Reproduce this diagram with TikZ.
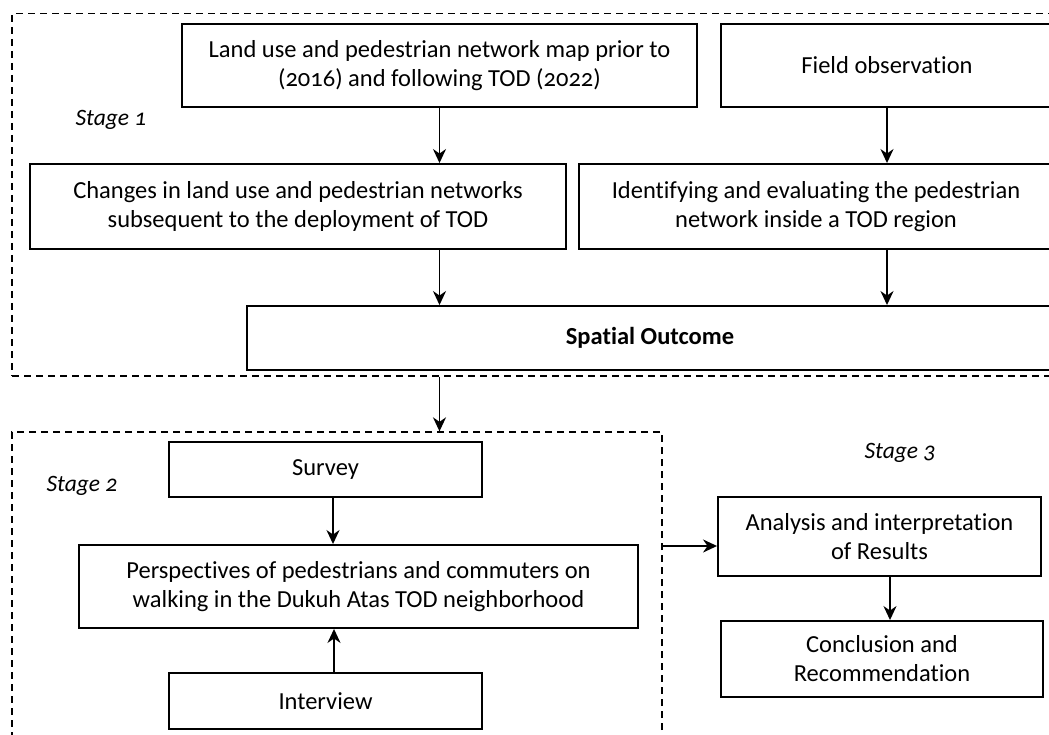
\documentclass[tikz,border=0pt]{standalone}
\usepackage{fontspec}
\setmainfont{Carlito}[Numbers=OldStyle,Ligatures=NoCommon]
\usetikzlibrary{arrows.meta}
\begin{document}
\begin{tikzpicture}[x=1pt,y=-1pt,
  box/.style={draw, line width=1.9pt, rectangle, inner sep=0pt, align=center, font=\fontsize{24.5}{29}\selectfont},
  arr/.style={line width=1.8pt, -{Stealth[length=14pt,width=13pt,inset=4.5pt]}},
  stagebox/.style={draw, dash pattern=on 7pt off 5pt, line width=1.3pt, rectangle, inner sep=0pt},
  stagelabel/.style={font=\fontsize{23.5}{28}\selectfont\itshape, inner sep=0pt}]
\useasboundingbox (0,0) rectangle (1049,735);
\clip (0,0) rectangle (1049,735);
% stage frames
\node[stagebox, minimum width=1060pt, minimum height=362.5pt] (stageone) at (542,194.75) {};
\node[stagebox, minimum width=650pt, minimum height=320pt] (stagetwo) at (337,592) {};
% stage 1
\node[box, minimum width=515pt, minimum height=83pt] (box1) at (439.5,65.5) {Land use and pedestrian network map prior to\\(2016) and following TOD (2022)};
\node[box, minimum width=332pt, minimum height=83pt] (field) at (887,65.5) {Field observation};
\node[box, minimum width=536pt, minimum height=85pt] (changes) at (298,206.5) {Changes in land use and pedestrian networks\\subsequent to the deployment of TOD};
\node[box, minimum width=474pt, minimum height=85pt] (ident) at (816,206.5) {Identifying and evaluating the pedestrian\\network inside a TOD region};
\node[box, minimum width=806pt, minimum height=64pt, font=\fontsize{24.5}{29}\selectfont\bfseries] (spatial) at (650,338) {Spatial Outcome};
% stage 2
\node[box, minimum width=313pt, minimum height=55pt] (survey) at (325.5,469.5) {Survey};
\node[box, minimum width=559pt, minimum height=83pt] (persp) at (358.5,586.5) {Perspectives of pedestrians and commuters on\\walking in the Dukuh Atas TOD neighborhood};
\node[box, minimum width=313pt, minimum height=56pt] (interview) at (325.5,701) {Interview};
% stage 3
\node[box, minimum width=323pt, minimum height=79pt] (analysis) at (879.5,536.5) {Analysis and interpretation\\of Results};
\node[box, minimum width=322pt, minimum height=76pt] (concl) at (882,659) {Conclusion and\\Recommendation};
% labels
\node[stagelabel] (lab1) at (111,120) {Stage 1};
\node[stagelabel] (lab2) at (82,486) {Stage 2};
\node[stagelabel] (lab3) at (900,453) {Stage 3};
% connectors
\draw[arr] (box1.south) -- (box1.south |- changes.north);
\draw[arr] (box1.south |- changes.south) -- (box1.south |- spatial.north);
\draw[arr] (field.south) -- (field.south |- ident.north);
\draw[arr] (field.south |- ident.south) -- (field.south |- spatial.north);
\draw[arr] (box1.south |- stageone.south) -- (box1.south |- stagetwo.north);
\draw[arr] ([xshift=7.5pt]survey.south) -- ([xshift=7.5pt]survey.south |- persp.north);
\draw[arr] ([xshift=8.5pt]interview.north) -- ([xshift=8.5pt]interview.north |- persp.south);
\coordinate (s2out) at (662,546);
\draw[arr] (s2out) -- (s2out -| analysis.west);
\draw[arr] ([xshift=10.5pt]analysis.south) -- ([xshift=10.5pt]analysis.south |- concl.north);
\end{tikzpicture}
\end{document}
